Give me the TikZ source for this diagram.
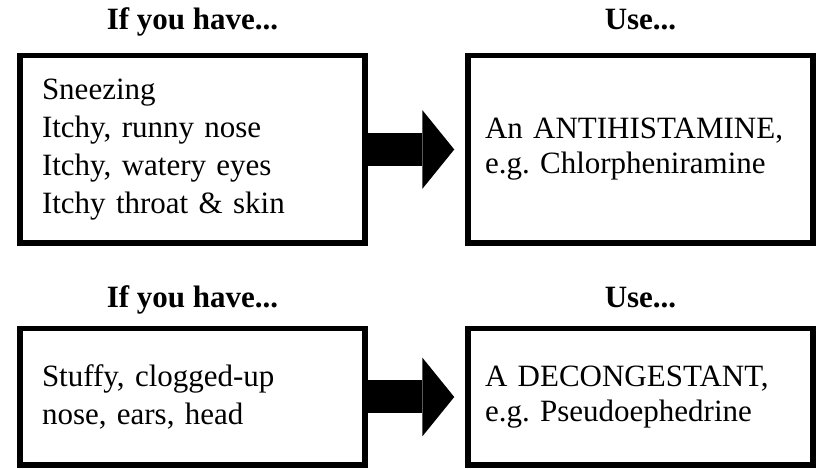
\documentclass[tikz,border=0pt]{standalone}
\usepackage{fontspec}
\setmainfont{Liberation Serif}
\usetikzlibrary{arrows.meta,positioning}
\frenchspacing
\tikzset{
    headlabel/.style={font=\fontsize{15.5}{19}\selectfont\bfseries, anchor=base, inner sep=0pt},
    havebox/.style={draw=black, line width=2.75pt, rectangle, align=left, inner ysep=0pt,
        inner xsep=11.1pt, text width=150.5pt, font=\fontsize{15.5}{19}\selectfont},
    usebox/.style={draw=black, line width=2.75pt, rectangle, align=left, inner ysep=0pt,
        inner xsep=8.6pt, text width=155.5pt, font=\fontsize{15.5}{17.5}\selectfont},
    fatarrow/.style={line width=16.5pt, -{Triangle[length=16pt, width=39.5pt, line width=0pt]},
        shorten >=5.4pt}
}

\begin{document}
\begin{tikzpicture}[x=0.5pt, y=-0.5pt]
    \useasboundingbox (0,0) rectangle (819,469);
    % Headers
    \node[headlabel] (haveA) at (192.5,30) {If you have...};
    \node[headlabel] (useA) at (640.5,30) {Use...};
    \node[headlabel] (haveB) at (192.5,308) {If you have...};
    \node[headlabel] (useB) at (640.5,308) {Use...};
    % Allergy boxes
    \node[havebox, minimum height=93.75pt] (itchy) at (192.5,149.5)
        {Sneezing\\Itchy, runny nose\\Itchy, watery eyes\\Itchy throat \& skin};
    \node[usebox, minimum height=93.75pt] (antihist) at (640.5,149.5)
        {An ANTIHISTAMINE,\\e.g. Chlorpheniramine};
    % Congestion boxes
    \node[havebox, minimum height=68.25pt] (stuffy) at (192.5,397)
        {Stuffy, clogged-up\\nose, ears, head};
    \node[usebox, minimum height=68.25pt] (decong) at (640.5,397)
        {A DECONGESTANT,\\e.g. Pseudoephedrine};
    % Arrows
    \draw[fatarrow] (itchy.east) -- (antihist.west);
    \draw[fatarrow] (stuffy.east) -- (decong.west);
\end{tikzpicture}
\end{document}
